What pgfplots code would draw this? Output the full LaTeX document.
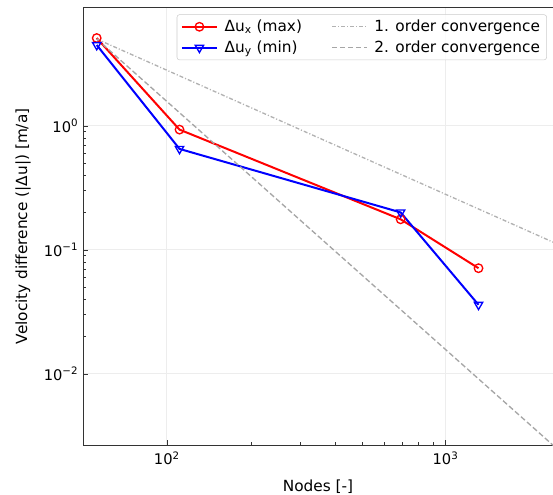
\documentclass[border=0pt]{standalone}
\usepackage{fontspec}
\setmainfont{DejaVu Sans}
\usepackage{pgfplots}
\pgfplotsset{compat=1.18}
\usetikzlibrary{calc}
\begin{document}
\begin{tikzpicture}
\begin{axis}[
  scale only axis,
  width=352.5pt, height=328.5pt,
  xmode=log, ymode=log,
  xmin=50, xmax=2430, ymin=0.00265, ymax=9,
  axis x line*=box, axis y line*=left,
  axis line style={-, black!80, line width=0.6pt},
  xtick pos=left, ytick pos=left,
  xtick={100,1000}, xticklabels={10\textsuperscript{2},10\textsuperscript{3}},
  ytick={0.01,0.1,1}, yticklabels={10\textsuperscript{−2},10\textsuperscript{−1},10\textsuperscript{0}},
  tick label style={font=\fontsize{11}{13}\selectfont},
  xticklabel shift=1.5pt,
  label style={font=\fontsize{11.5}{13}\selectfont},
  xlabel={Nodes [-]}, ylabel={Velocity difference (|Δu|) [m/a]},
  ylabel shift=3pt, xlabel shift=4pt,
  grid=major, major grid style={black!7, line width=0.6pt},
  tick style={black!80},
  major tick length=4pt, minor tick length=2.3pt,
  legend columns=2,
  legend image code/.code={\draw[mark repeat=2,mark phase=2] plot coordinates {(0cm,0cm) (0.46cm,0cm) (0.92cm,0cm)};},
  legend style={at={(0.987,0.984)}, anchor=north east, draw=black!20, rounded corners=2pt,
    fill=white, fill opacity=0.8, text opacity=1, font=\fontsize{11.5}{13.5}\selectfont,
    row sep=1.5pt,
    /tikz/every odd column/.append style={column sep=3pt},
    /tikz/every even column/.append style={column sep=20pt}},
  legend cell align=left,
]
\coordinate (bl) at (rel axis cs:0,0);
\coordinate (tr) at (rel axis cs:1,1);
\addplot[red, line width=1.5pt, mark=o, mark size=3.2pt, mark options={line width=1pt}]
  coordinates {(56,5.09) (111,0.93) (690,0.176) (1313,0.071)};
\addlegendentry{Δu\textsubscript{x} (max)}
\addplot[gray!60, line width=1pt, dash pattern=on 3pt off 1.5pt on 0.8pt off 1.5pt]
  coordinates {(56,5.0) (2500,0.112)};
\addlegendentry{1. order convergence}
\addplot[blue, line width=1.5pt, mark=triangle, mark size=3.6pt, mark options={line width=1pt, rotate=180}]
  coordinates {(56,4.47) (111,0.65) (690,0.2) (1313,0.036)};
\addlegendentry{Δu\textsubscript{y} (min)}
\addplot[gray!70, line width=1pt, dash pattern=on 4pt off 2pt]
  coordinates {(56,5.0) (2500,0.00251)};
\addlegendentry{2. order convergence}
\end{axis}
\pgfresetboundingbox
\path ($(bl)+(-62.25pt,-36.5pt)$) rectangle ($(tr)+(0pt,5.5pt)$);
\end{tikzpicture}
\end{document}
